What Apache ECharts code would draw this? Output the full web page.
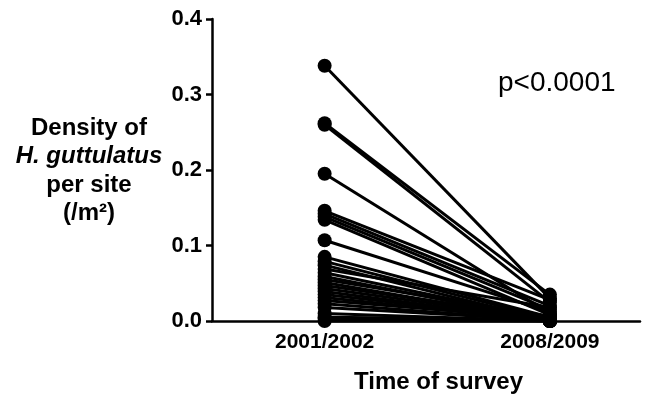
<!DOCTYPE html>
<html>
<head>
<meta charset="utf-8">
<script src="https://cdn.jsdelivr.net/npm/echarts@6/dist/echarts.min.js"></script>
<style>
  html, body { margin: 0; padding: 0; background: #fff; }
  #chart { width: 660px; height: 396px; }
</style>
</head>
<body>
<div id="chart"></div>
<script>
// survey periods, placed at x = 1 and x = 2
const periods = ['2001/2002', '2008/2009'];
// density per site (/m2), one entry per site, same order in both arrays
const before = [0.338, 0.262, 0.260, 0.195, 0.146, 0.142, 0.138, 0.134, 0.107,
  0.085, 0.079, 0.074, 0.069, 0.064, 0.059, 0.055, 0.051, 0.047, 0.043, 0.039,
  0.035, 0.031, 0.027, 0.023, 0.018, 0.010, 0.005, 0.003, 0.0];
const after = [0.030, 0.035, 0.025, 0.010, 0.028, 0.020, 0.015, 0.008, 0.012,
  0.005, 0.003, 0.0, 0.018, 0.002, 0.0, 0.006, 0.0, 0.004, 0.002, 0.0,
  0.001, 0.0, 0.003, 0.0, 0.001, 0.0, 0.002, 0.0, 0.0];

const font = "'Liberation Sans', Arial, sans-serif";

const series = before.map((b, i) => ({
  type: 'line',
  data: [[1, b], [2, after[i]]],
  symbol: 'circle',
  symbolSize: 14,
  clip: false,
  itemStyle: { color: '#000' },
  lineStyle: { color: '#000', width: 3 },
  silent: true
}));

const chart = echarts.init(document.getElementById('chart'));
chart.setOption({
  animation: false,
  backgroundColor: '#fff',
  grid: { left: 212, right: 20, top: 19, bottom: 75, outerBoundsMode: 'none' },
  xAxis: {
    type: 'value',
    min: 0.5,
    max: 2.4,
    splitLine: { show: false },
    axisLine: { lineStyle: { color: '#000', width: 2.5 } },
    axisTick: { customValues: [1, 2], length: 6, lineStyle: { color: '#000', width: 2.5 } },
    axisLabel: {
      customValues: [1, 2],
      formatter: v => periods[Math.round(v) - 1] || '',
      color: '#000', fontFamily: font, fontWeight: 'bold', fontSize: 21, margin: 11
    },
    name: 'Time of survey',
    nameLocation: 'middle',
    nameGap: 49,
    nameTextStyle: {
      color: '#000', fontFamily: font, fontWeight: 'bold', fontSize: 24,
      padding: [0, 0, 0, 25]
    }
  },
  yAxis: {
    type: 'value',
    min: 0,
    max: 0.4,
    interval: 0.1,
    splitLine: { show: false },
    axisLine: { show: true, lineStyle: { color: '#000', width: 2.5 } },
    axisTick: { show: true, length: 6, lineStyle: { color: '#000', width: 2.5 } },
    axisLabel: {
      formatter: v => v.toFixed(1),
      color: '#000', fontFamily: font, fontWeight: 'bold', fontSize: 22, margin: 10
    }
  },
  graphic: [
    {
      type: 'text', x: 89, y: 114,
      style: {
        text: 'Density of\n{i|H. guttulatus}\nper site\n(/m²)',
        textAlign: 'center',
        textVerticalAlign: 'top',
        fill: '#000',
        font: 'bold 24px ' + font,
        lineHeight: 28.5,
        rich: {
          i: { fontStyle: 'italic', fontWeight: 'bold', fontSize: 24, fontFamily: font, lineHeight: 28.5 }
        }
      }
    },
    {
      type: 'text', x: 498, y: 83,
      style: {
        text: 'p<0.0001',
        textVerticalAlign: 'middle',
        fill: '#000',
        font: '28px ' + font
      }
    }
  ],
  series: series
});
</script>
</body>
</html>
